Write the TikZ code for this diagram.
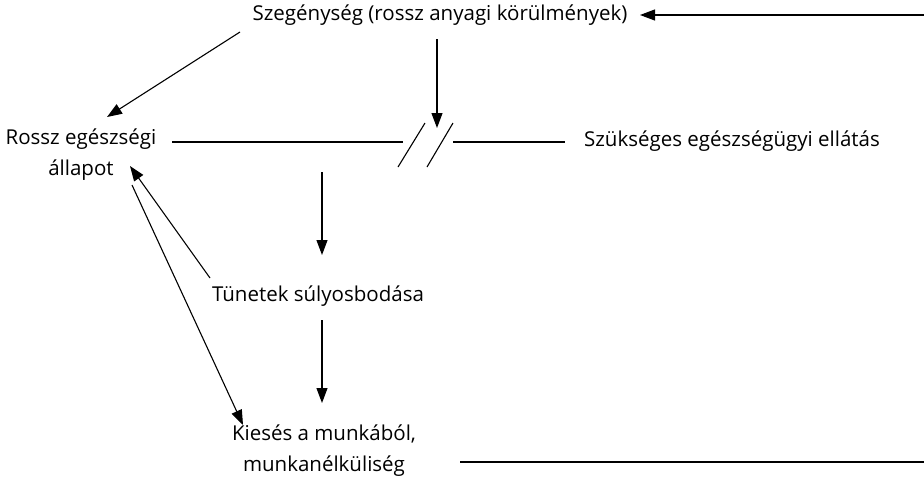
\documentclass[tikz,border=0pt]{standalone}
\usepackage{fontspec}
\setmainfont{Open Sans}
\usetikzlibrary{arrows.meta}
\begin{document}
\begin{tikzpicture}[x=1pt,y=-1pt,
  lbl/.style={inner sep=0pt,font=\fontsize{20.5}{31}\selectfont,align=center},
  ln/.style={line width=1.1pt,draw=black},
  arr/.style={ln,-{Triangle[length=15pt,width=11pt]}}]
\useasboundingbox (0,0) rectangle (924,480);
\node[lbl] (pov) at (440,15) {Szegénység (rossz anyagi körülmények)};
\node[lbl] (ill) at (81,155) {Rossz egészségi\\állapot};
\node[lbl] (care) at (732,141) {Szükséges egészségügyi ellátás};
\node[lbl] (sym) at (318,296) {Tünetek súlyosbodása};
\node[lbl] (job) at (324,451) {Kiesés a munkából,\\munkanélküliség};
\coordinate (rt) at (924,15);
\coordinate (rb) at (924,462);
\coordinate (jb) at (460,462);
\coordinate (l1) at (172,142);
\coordinate (l2) at (403,142);
\coordinate (r1) at (453,142);
\coordinate (r2) at (565,142);
\coordinate (s1a) at (398,167);
\coordinate (s1b) at (425,123);
\coordinate (s2a) at (427,167);
\coordinate (s2b) at (453,123);
\coordinate (brk) at (437,128);
\coordinate (pv) at (437,39);
\coordinate (d1) at (322,172);
\coordinate (d2) at (322,255);
\coordinate (d3) at (322,320);
\coordinate (d4) at (322,403);
\coordinate (a1) at (240,32);
\coordinate (a1e) at (107,117);
\coordinate (a2) at (210,278);
\coordinate (a2e) at (130,166);
\coordinate (a3) at (132,185);
\coordinate (a3e) at (243,425);
\coordinate (pe) at (640,15);
\draw[arr] (rt) -- (pe);
\draw[ln] (jb) -- (rb);
\draw[ln] (l1) -- (l2);
\draw[ln] (r1) -- (r2);
\draw[ln] (s1a) -- (s1b);
\draw[ln] (s2a) -- (s2b);
\draw[arr] (pv) -- (brk);
\draw[arr] (d1) -- (d2);
\draw[arr] (d3) -- (d4);
\draw[arr] (a1) -- (a1e);
\draw[arr] (a2) -- (a2e);
\draw[arr] (a3) -- (a3e);
\end{tikzpicture}
\end{document}
